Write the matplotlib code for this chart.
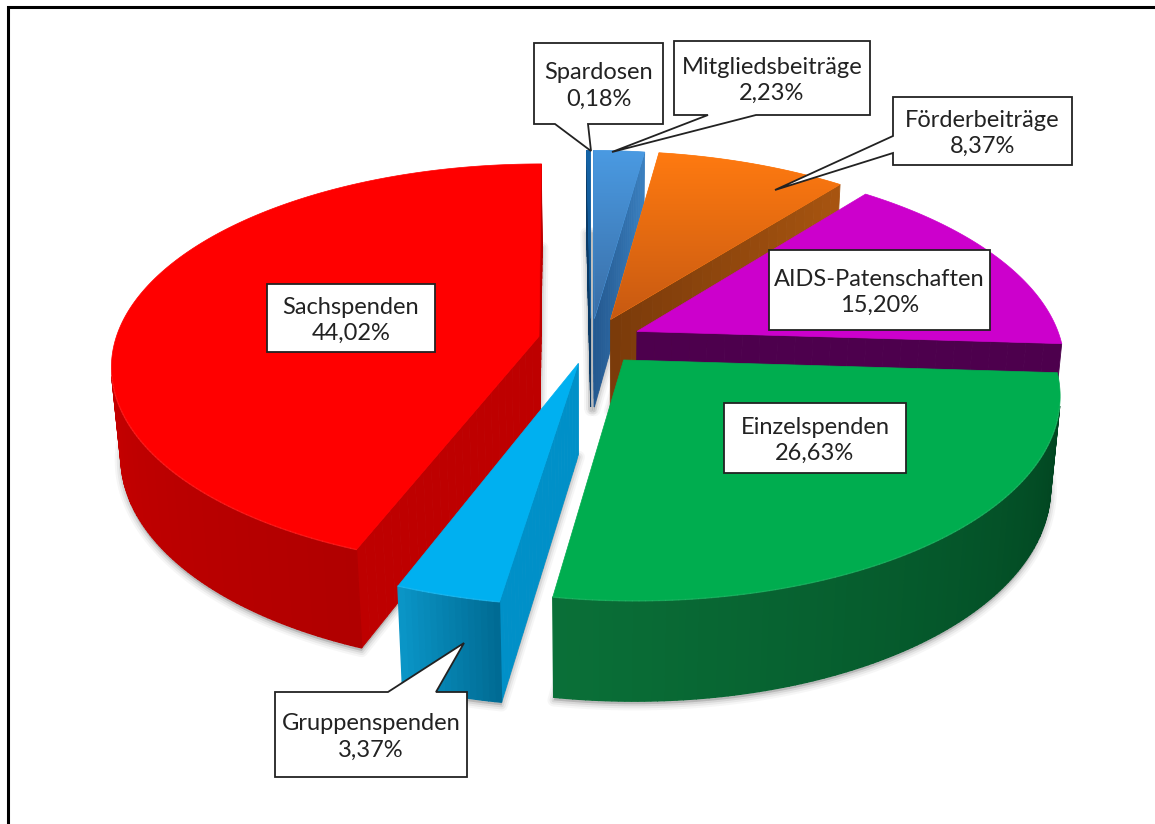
"""Exploded 3D pie of donation shares, built from a small perspective projection."""

import numpy as np
import matplotlib
matplotlib.use("Agg")
import matplotlib.pyplot as plt
from matplotlib.colors import to_rgb
from matplotlib.patches import Polygon

labels = ["Spardosen", "Mitgliedsbeiträge", "Förderbeiträge", "AIDS-Patenschaften",
          "Einzelspenden", "Gruppenspenden", "Sachspenden"]
shares = [0.18, 2.23, 8.37, 15.20, 26.63, 3.37, 44.02]

# explosion per slice, as a fraction of the radius
explode = [0.115, 0.115, 0.12, 0.12, 0.12, 0.115, 0.125]

# top colours (back, front), rim wall (start, end of arc), radial wall (apex, rim)
top_back = ["#1565A8", "#4A9AE2", "#FF7A10", "#CC00CC", "#00AD4F", "#00B0F0", "#FF0000"]
top_front = ["#0F4F88", "#3A6EA6", "#C85A12", "#CC00CC", "#00AD4F", "#00B0F0", "#FF0000"]
rim_start = ["#0A3A66", "#2A5A8C", "#A85510", "#4D004D", "#00401E", "#006A92", "#B00000"]
rim_end = ["#0A3A66", "#3A7DBB", "#A85510", "#4D004D", "#0A7038", "#0A96C8", "#E80000"]
radial_apex = ["#0A3A66", "#24588F", "#7A3A0A", "#4D004D", "#00401E", "#0090C8", "#BE0000"]
radial_rim = ["#0A3A66", "#3A80C0", "#A85510", "#4D004D", "#00401E", "#0090C8", "#BE0000"]

# label boxes: left, top, right, bottom, then the callout tail (base, tip, base)
boxes = [(534, 43, 663, 124), (674, 41, 870, 115), (893, 97, 1072, 165), (769, 250, 990, 330),
         (724, 403, 906, 473), (275, 692, 467, 777), (267, 284, 435, 352)]
tails = [[(555, 124), (591, 151), (588, 124)],
         [(708, 115), (612, 152), (756, 115)],
         [(893, 136), (775, 190), (893, 153)],
         None, None,
         [(388, 692), (464, 643), (436, 692)],
         None]

# projection constants
CX, CY = 591, 341
A, B, H = 424, 199.2, 91.3
S = -5
P, R = 0.1477, 0.02


def project(x, y, z):
    """x right, y to the back, z = 0 on top and 1 at the bottom of the pie."""
    w = 1 + P * y + R * z
    return CX + (A * x + S * y) / w, CY + (-B * y + H * z) / w


def mix(c1, c2, t):
    c1, c2 = np.array(to_rgb(c1)), np.array(to_rgb(c2))
    return tuple(c1 + (c2 - c1) * t)


def area(pts):
    x, y = np.array(pts).T
    return np.sum(x * np.roll(y, -1) - np.roll(x, -1) * y)


fig = plt.figure(figsize=(11.55, 8.24), dpi=100)
ax = fig.add_axes([0, 0, 1, 1])

zorder = 10
edges = np.cumsum([0] + shares) / sum(shares) * 2 * np.pi
slices = []
for i in range(len(shares)):
    t0, t1 = edges[i], edges[i + 1]
    mid = (t0 + t1) / 2
    ox, oy = explode[i] * np.sin(mid), explode[i] * np.cos(mid)
    arc = np.linspace(t0, t1, max(int(np.degrees(t1 - t0) / 0.75), 2) + 1)
    slices.append((i, t0, t1, ox, oy, arc))

# painter's order, back to front
for i, t0, t1, ox, oy, arc in [slices[k] for k in (0, 1, 2, 3, 6, 5, 4)]:
    ring = [(ox + np.sin(t), oy + np.cos(t)) for t in arc]
    apex = (ox, oy)
    top = [project(*apex, 0)] + [project(*p, 0) for p in ring]
    bottom = [project(*apex, 1)] + [project(*p, 1) for p in ring]

    # soft shadow from the bottom face
    shadow = [(x, y + 3) for x, y in bottom]
    for lw, alpha in [(9, 0.05), (6, 0.08), (3, 0.12)]:
        ax.add_patch(Polygon(shadow, closed=True, fc="#555555", ec="#555555", lw=lw,
                             alpha=alpha, joinstyle="round", zorder=1))

    # radial walls, split for the colour ramp
    rr = np.linspace(0, 1, 25)
    for t, rev in ((t0, True), (t1, False)):
        corner = (ox + np.sin(t), oy + np.cos(t))
        for r0, r1 in zip(rr[:-1], rr[1:]):
            p0 = (apex[0] + (corner[0] - apex[0]) * r0, apex[1] + (corner[1] - apex[1]) * r0)
            p1 = (apex[0] + (corner[0] - apex[0]) * r1, apex[1] + (corner[1] - apex[1]) * r1)
            if rev:
                quad = [project(*p1, 0), project(*p0, 0), project(*p0, 1), project(*p1, 1)]
            else:
                quad = [project(*p0, 0), project(*p1, 0), project(*p1, 1), project(*p0, 1)]
            if area(quad) > 0:
                col = mix(radial_apex[i], radial_rim[i], (r0 + r1) / 2)
                ax.add_patch(Polygon(quad, closed=True, fc=col, ec=col, lw=0.6, zorder=zorder))

    # outer wall
    for k in range(len(ring) - 1):
        a, b = ring[k], ring[k + 1]
        quad = [project(*b, 0), project(*a, 0), project(*a, 1), project(*b, 1)]
        if area(quad) > 0:
            col = mix(rim_start[i], rim_end[i], (k + 0.5) / (len(ring) - 1))
            ax.add_patch(Polygon(quad, closed=True, fc=col, ec=col, lw=1.0, zorder=zorder + 1))

    # top face, with a vertical ramp
    face = Polygon(top, closed=True, fc=top_back[i], ec=top_back[i], lw=0.5, zorder=zorder + 2)
    ax.add_patch(face)
    if top_back[i] != top_front[i]:
        ys = np.array(top)[:, 1]
        xs = np.array(top)[:, 0]
        ramp = np.array([[mix(top_back[i], top_front[i], s)] for s in np.linspace(0, 1, 100)])
        im = ax.imshow(ramp, extent=(xs.min(), xs.max(), ys.max(), ys.min()), aspect="auto",
                       zorder=zorder + 3)
        im.set_clip_path(face)

    # light bevel along the visible rim
    for k in range(len(ring) - 1):
        a, b = ring[k], ring[k + 1]
        quad = [project(*b, 0), project(*a, 0), project(*a, 1), project(*b, 1)]
        if area(quad) > 0:
            (x0, y0), (x1, y1) = project(*a, 0), project(*b, 0)
            ax.plot([x0, x1], [y0, y1], color=mix(top_back[i], "#FFFFFF", 0.2), lw=1.0,
                    alpha=0.4, solid_capstyle="round", zorder=zorder + 4)
    zorder += 10

# label boxes with callouts
for i, (x0, y0, x1, y1) in enumerate(boxes):
    pts = [(x0, y0), (x1, y0), (x1, y1), (x0, y1)]
    if tails[i] is not None:
        t = tails[i]
        if t[0][0] == x0:            # tail on the left edge
            pts = [(x0, y0), (x1, y0), (x1, y1), (x0, y1), t[2], t[1], t[0]]
        elif t[0][1] == y0:          # tail on the top edge
            pts = [(x0, y0), t[0], t[1], t[2], (x1, y0), (x1, y1), (x0, y1)]
        else:                        # tail on the bottom edge
            pts = [(x0, y0), (x1, y0), (x1, y1), t[2], t[1], t[0], (x0, y1)]
    ax.add_patch(Polygon(pts, closed=True, fc="white", ec="#222222", lw=1.3,
                         joinstyle="miter", zorder=200))
    txt = f"{labels[i]}\n{shares[i]:.2f}".replace(".", ",") + "%"
    ax.text((x0 + x1) / 2, (y0 + y1) / 2 + 2.5, txt, ha="center", va="center", family="Lato",
            fontsize=17, color="#222222", linespacing=1.3, zorder=201)

# outer frame, only top and left are inside the picture
ax.plot([8, 8, 1155], [824, 7, 7], color="black", lw=2.2, solid_joinstyle="miter", zorder=300)

ax.set_xlim(0, 1155)
ax.set_ylim(824, 0)
ax.axis("off")
fig.savefig("out.png", dpi=100, facecolor="white")
